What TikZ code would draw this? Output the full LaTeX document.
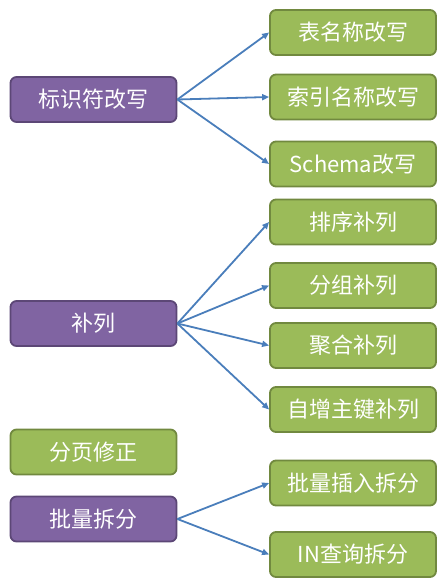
\documentclass[tikz,border=0pt]{standalone}
\usepackage{fontspec}
\setmainfont{Noto Sans CJK SC}
\usetikzlibrary{arrows.meta}
\definecolor{grfill}{HTML}{9BBB59}
\definecolor{grline}{HTML}{71893F}
\definecolor{pufill}{HTML}{8064A2}
\definecolor{puline}{HTML}{5C4776}
\definecolor{arrowc}{HTML}{4A7EBB}
\tikzset{
  boxbase/.style={rounded corners=6pt, line width=1.8pt, minimum width=166pt, minimum height=45pt,
    inner sep=0pt, text=white, font=\fontsize{22}{26}\selectfont},
  gbox/.style={boxbase, fill=grfill, draw=grline},
  pbox/.style={boxbase, fill=pufill, draw=puline},
  conn/.style={draw=arrowc, line width=1.8pt, -{Triangle[length=7pt,width=6pt]}}
}
\begin{document}
\begin{tikzpicture}[x=1pt,y=-1pt]
\useasboundingbox (0,0) rectangle (447,588);
\node[pbox] (id) at (93.5,99.5) {标识符改写};
\node[pbox] (bl) at (93.5,323.5) {补列};
\node[gbox] (fy) at (93.5,452) {分页修正};
\node[pbox] (pl) at (93.5,519) {批量拆分};

\node[gbox] (r1) at (353,32.5) {表名称改写};
\node[gbox] (r2) at (353,97) {索引名称改写};
\node[gbox] (r3) at (353,164) {Schema改写};
\node[gbox] (r4) at (353,222) {排序补列};
\node[gbox] (r5) at (353,285.5) {分组补列};
\node[gbox] (r6) at (353,345.5) {聚合补列};
\node[gbox] (r7) at (353,409.5) {自增主键补列};
\node[gbox] (r8) at (353,483) {批量插入拆分};
\node[gbox] (r9) at (353,554.5) {IN查询拆分};

\foreach \t in {r1,r2,r3} \draw[conn] (id.east) -- (\t.west);
\foreach \t in {r4,r5,r6,r7} \draw[conn] (bl.east) -- (\t.west);
\foreach \t in {r8,r9} \draw[conn] (pl.east) -- (\t.west);
\end{tikzpicture}
\end{document}
